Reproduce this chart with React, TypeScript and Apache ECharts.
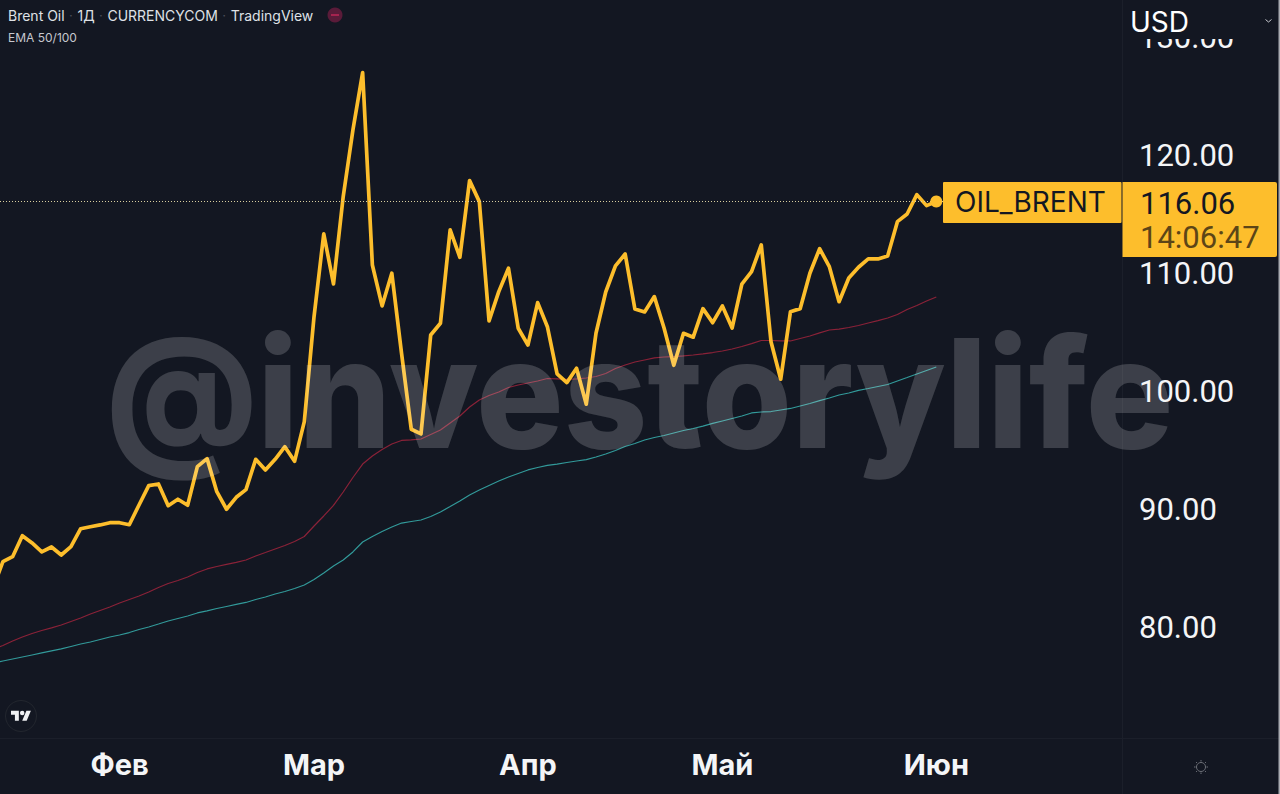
import React, { useEffect, useRef } from "react";
import * as echarts from "echarts";

const priceValues = [83.31, 85.54, 85.96, 87.74, 87.12, 86.36, 86.78, 86.10, 86.81, 88.33, 88.50, 88.65, 88.84, 88.84, 88.67, 90.34, 91.98, 92.12, 90.28, 90.83, 90.32, 93.59, 94.27, 91.47, 89.98, 90.99, 91.64, 94.21, 93.31, 94.21, 95.28, 94.04, 97.40, 106.30, 113.31, 109.07, 116.47, 122.12, 126.98, 110.68, 107.21, 109.98, 103.20, 96.76, 96.36, 104.75, 105.74, 113.65, 111.33, 117.83, 116.05, 105.94, 108.42, 110.40, 105.32, 103.90, 107.49, 105.45, 101.45, 100.71, 101.93, 98.88, 104.89, 108.39, 110.60, 111.61, 106.95, 106.70, 108.00, 105.34, 102.18, 104.89, 104.56, 106.98, 105.79, 107.21, 105.34, 109.05, 110.11, 112.38, 104.18, 101.00, 106.72, 106.98, 109.98, 112.06, 110.54, 107.57, 109.58, 110.49, 111.19, 111.19, 111.45, 114.35, 115.00, 116.64, 115.71, 116.06];
const ema50Values = [78.14, 78.43, 78.81, 79.15, 79.45, 79.70, 79.92, 80.17, 80.47, 80.76, 81.10, 81.40, 81.70, 82.03, 82.33, 82.63, 82.97, 83.35, 83.69, 83.94, 84.24, 84.62, 84.92, 85.13, 85.30, 85.47, 85.68, 86.02, 86.31, 86.61, 86.91, 87.25, 87.67, 88.56, 89.41, 90.30, 91.44, 92.67, 93.81, 94.49, 95.04, 95.51, 95.81, 95.85, 95.93, 96.31, 96.69, 97.29, 97.88, 98.64, 99.24, 99.62, 99.92, 100.30, 100.51, 100.68, 100.85, 101.06, 101.02, 100.98, 101.02, 101.10, 101.23, 101.48, 101.91, 102.20, 102.46, 102.63, 102.80, 102.88, 102.92, 102.97, 103.05, 103.14, 103.26, 103.39, 103.56, 103.77, 104.02, 104.28, 104.28, 104.24, 104.24, 104.45, 104.66, 104.92, 105.17, 105.25, 105.38, 105.55, 105.76, 105.97, 106.19, 106.48, 106.91, 107.25, 107.63, 107.97];
const ema100Values = [76.95, 77.12, 77.29, 77.46, 77.63, 77.80, 77.97, 78.14, 78.35, 78.56, 78.73, 78.94, 79.15, 79.32, 79.53, 79.79, 80.00, 80.25, 80.51, 80.72, 80.93, 81.19, 81.36, 81.57, 81.74, 81.91, 82.08, 82.33, 82.54, 82.80, 83.01, 83.26, 83.56, 84.03, 84.58, 85.17, 85.68, 86.36, 87.20, 87.67, 88.09, 88.47, 88.81, 88.94, 89.07, 89.36, 89.75, 90.21, 90.68, 91.18, 91.61, 91.99, 92.37, 92.71, 93.01, 93.31, 93.52, 93.69, 93.81, 93.94, 94.07, 94.19, 94.41, 94.66, 94.96, 95.30, 95.55, 95.85, 96.06, 96.23, 96.44, 96.65, 96.82, 97.03, 97.25, 97.46, 97.67, 97.88, 98.14, 98.22, 98.26, 98.39, 98.52, 98.73, 98.94, 99.19, 99.41, 99.66, 99.83, 100.05, 100.21, 100.38, 100.55, 100.85, 101.14, 101.44, 101.74, 102.03];
const monthTicks = [12, 32, 54, 74, 96];
const monthLabels = ["Фев", "Мар", "Апр", "Май", "Июн"];
const lastPriceLabel = "116.06";
const lastPrice = 116.06;
const countdownLabel = "14:06:47";
const symbolLabel = "OIL_BRENT";
const currencyLabel = "USD";
const titleParts = ["Brent Oil", "1Д", "CURRENCYCOM", "TradingView"];
const indicatorLabel = "EMA 50/100";
const watermarkLabel = "@investorylife";

const FONT = "Inter, 'Noto Sans', sans-serif";
const NUM_FONT = "Roboto, 'Noto Sans', sans-serif";
const BG = "#131722";
const GOLD = "#FDBE2C";
const toPairs = (vals: number[]) => vals.map((v, k) => [k - 1, v]);

const sunRays = [0, 45, 90, 135, 180, 225, 270, 315];

export default function App() {
  const ref = useRef<HTMLDivElement>(null);
  useEffect(() => {
    document.body.style.background = BG;
    echarts.graphic.registerShape(
      "tvLogo",
      echarts.graphic.extendPath("M14 22H7V11H0V4h14v18zM28 22h-8l7.5-18h8L28 22zM24 8a4 4 0 1 1-8 0a4 4 0 1 1 8 0z", {})
    );
    const chart = echarts.init(ref.current!, undefined, { renderer: "svg" });
    const graphics: any[] = [
      { type: "text", z: 10, x: 106, y: 393, scaleY: 1.04, silent: true, style: { text: watermarkLabel, font: `800 146px ${FONT}`, fill: "rgba(255,255,255,0.175)", verticalAlign: "middle", textAlign: "left" } },
      { type: "line", z: 5, shape: { x1: 1122.5, y1: 0, x2: 1122.5, y2: 794 }, style: { stroke: "#1b1f2a", lineWidth: 1 } },
      { type: "line", z: 5, shape: { x1: 0, y1: 738.5, x2: 1280, y2: 738.5 }, style: { stroke: "#1b1f2a", lineWidth: 1 } },
      { type: "rect", z: 60, shape: { x: 1123, y: 0, width: 157, height: 39 }, style: { fill: BG } },
      { type: "text", z: 61, x: 1130, y: 22, style: { text: currencyLabel, font: `400 28px ${FONT}`, fill: "#ffffff", verticalAlign: "middle" } },
      { type: "polyline", z: 61, shape: { points: [[1265.5, 19.5], [1268.5, 22], [1271.5, 19.5]] }, style: { stroke: "#c8cad0", lineWidth: 1, fill: "none" } },
      { type: "rect", z: 70, shape: { x: 943, y: 182, width: 178.5, height: 41, r: 1 }, style: { fill: GOLD } },
      { type: "text", z: 71, x: 955, y: 202, style: { text: symbolLabel, font: `400 28px ${FONT}`, fill: "#131722", verticalAlign: "middle" } },
      { type: "rect", z: 70, shape: { x: 1122.5, y: 182, width: 154.5, height: 75, r: [0, 2, 2, 0] }, style: { fill: GOLD } },
      { type: "text", z: 71, x: 1140, y: 203, style: { text: lastPriceLabel, font: `400 31px ${NUM_FONT}`, fill: "#131722", verticalAlign: "middle" } },
      { type: "text", z: 71, x: 1140, y: 237, style: { text: countdownLabel, font: `400 31px ${NUM_FONT}`, fill: "#5c4517", verticalAlign: "middle" } },
      { type: "circle", z: 71, shape: { cx: 335, cy: 15, r: 7.5 }, style: { fill: "#5a1b39" } },
      { type: "rect", z: 72, shape: { x: 331, y: 14, width: 8, height: 2 }, style: { fill: "#a5234f" } },
      { type: "circle", z: 71, shape: { cx: 21, cy: 716, r: 15.5 }, style: { fill: BG, stroke: "#23272f", lineWidth: 1 } },
      { type: "tvLogo", z: 72, x: 11, y: 708.5, scaleX: 0.56, scaleY: 0.56, style: { fill: "#f0f1f3" } },
      { type: "circle", z: 71, shape: { cx: 1201, cy: 767, r: 4.5 }, style: { fill: "none", stroke: "#6d7078", lineWidth: 1 } },
      ...sunRays.map((deg) => {
        const a = (deg * Math.PI) / 180;
        return {
          type: "line",
          z: 71,
          shape: { x1: 1201 + 5.5 * Math.cos(a), y1: 767 + 5.5 * Math.sin(a), x2: 1201 + 7 * Math.cos(a), y2: 767 + 7 * Math.sin(a) },
          style: { stroke: "#6d7078", lineWidth: 1 },
        };
      }),
      { type: "rect", z: 80, shape: { x: 1278.5, y: 0, width: 1.5, height: 794 }, style: { fill: "#a9abb1" } },
    ];
    chart.setOption({
      animation: false,
      backgroundColor: BG,
      title: {
        left: 3,
        top: 3,
        text: titleParts.map((p) => `{t|${p}}`).join("{s|  ·  }"),
        textStyle: { rich: { t: { fontFamily: FONT, fontSize: 14, fontWeight: 400, color: "#dfe1e6" }, s: { fontFamily: FONT, fontSize: 10, color: "#4a4e59" } } },
        subtext: indicatorLabel,
        subtextStyle: { fontFamily: FONT, fontSize: 12, color: "#c6c8cf" },
        itemGap: 9,
      },
      graphic: graphics,
      grid: { left: 0, width: 1122, top: -81, height: 826, outerBoundsMode: "none" },
      xAxis: {
        type: "value",
        min: -0.298,
        max: 115.1,
        splitLine: { show: false },
        axisLine: { show: false },
        axisTick: { show: false },
        axisLabel: {
          customValues: monthTicks,
          formatter: (v: number) => monthLabels[monthTicks.indexOf(v)] ?? "",
          fontFamily: FONT,
          fontSize: 29,
          fontWeight: 700,
          color: "#f4f5f7",
          margin: 5,
        },
      },
      yAxis: {
        type: "value",
        position: "right",
        min: 70,
        max: 140,
        interval: 10,
        z: 50,
        splitLine: { show: false },
        axisLine: { show: false },
        axisTick: { show: false },
        axisLabel: {
          showMinLabel: false,
          showMaxLabel: false,
          formatter: (v: number) => v.toFixed(2),
          fontFamily: NUM_FONT,
          fontSize: 31,
          color: "#f4f5f7",
          margin: 17,
        },
      },
      series: [
        { name: "EMA 100", type: "line", data: toPairs(ema100Values), showSymbol: false, lineStyle: { color: "#329a9a", width: 1.2 }, silent: true },
        { name: "EMA 50", type: "line", data: toPairs(ema50Values), showSymbol: false, lineStyle: { color: "#8a2238", width: 1.2 }, silent: true },
        {
          name: "Brent Oil",
          type: "line",
          data: toPairs(priceValues),
          showSymbol: false,
          lineStyle: { color: GOLD, width: 3.7, join: "round" },
          silent: true,
          markLine: {
            silent: true,
            symbol: "none",
            label: { show: false },
            lineStyle: { color: "#d9cf9f", type: [1, 2], width: 1 },
            data: [{ yAxis: lastPrice }],
          },
          markPoint: {
            silent: true,
            symbol: "circle",
            symbolSize: 12,
            itemStyle: { color: GOLD },
            label: { show: false },
            data: [{ coord: [priceValues.length - 2, lastPrice] }],
          },
        },
      ],
    });
    return () => chart.dispose();
  }, []);
  return <div ref={ref} style={{ position: "absolute", left: 0, top: 0, width: 1280, height: 794 }} />;
}
